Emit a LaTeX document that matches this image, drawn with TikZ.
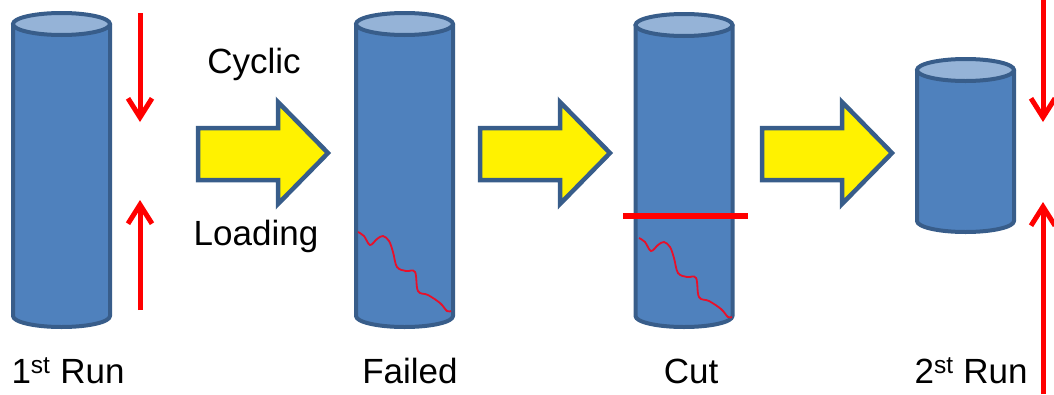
\documentclass[tikz,border=0pt]{standalone}
\usepackage{fontspec}
\setmainfont{Liberation Sans}
\usetikzlibrary{arrows.meta}
\definecolor{cylfill}{HTML}{4F81BD}
\definecolor{cyltopfill}{HTML}{95B3D7}
\definecolor{cylline}{HTML}{385D8A}
\definecolor{crackred}{HTML}{E8102A}
\tikzset{
  cylside/.style={fill=cylfill, draw=cylline, line width=4pt, line join=round},
  cyltop/.style={fill=cyltopfill, draw=cylline, line width=4pt},
  flowarrow/.style={fill=yellow, draw=cylline, line width=4.5pt, line join=miter},
  loadarrow/.style={draw=red, line width=5pt, -{Straight Barb[length=19pt,width=24pt]}},
  crack/.style={draw=crackred, line width=1.8pt},
  cutline/.style={draw=red, line width=6.5pt},
  label/.style={anchor=base, inner sep=0pt, font=\fontsize{35}{42}\selectfont}
}
% a specimen: centre x, top ellipse y, bottom ellipse y, name
\newcommand\specimen[4]{%
  \filldraw[cylside] (#1-48.5,#2) -- (#1-48.5,#3)
    arc[start angle=180,end angle=360,x radius=48.5pt,y radius=11pt]
    -- (#1+48.5,#2) -- cycle;
  \filldraw[cyltop] (#1,#2) ellipse[x radius=48.5pt, y radius=11pt];
  \coordinate (#4) at (#1,#3);
}
% a block arrow starting at the given x
\newcommand\flowarrow[2]{%
  \draw[flowarrow] (#1,128) -- (#1+80,128) -- (#1+80,102) -- (#1+130,153)
    -- (#1+80,204) -- (#1+80,180) -- (#1,180) -- cycle;
  \coordinate (#2) at (#1+130,153);
}
\begin{document}
\begin{tikzpicture}[x=1pt,y=-1pt]
\useasboundingbox (0,0) rectangle (1054,394);

% specimens
\specimen{61.5}{24}{316}{s1}
\specimen{404.5}{24}{316}{s2}
\specimen{684}{25}{316}{s3}
\specimen{965.5}{70}{221}{s4}

% fatigue cracks
\draw[crack] plot[smooth, tension=0.6] coordinates {(358,232) (364,236) (370,245) (377,239) (383,236) (389,241) (393,252) (397,267) (406,271) (415,272) (418,291) (428,295) (440,303) (447,311) (451,311)};
\begin{scope}[shift={(281,6)}]
\draw[crack] plot[smooth, tension=0.6] coordinates {(358,232) (364,236) (370,245) (377,239) (383,236) (389,241) (393,252) (397,267) (406,271) (415,272) (418,291) (428,295) (440,303) (447,311) (451,311)};
\end{scope}

% cut position
\coordinate (cutA) at (623,216);
\coordinate (cutB) at (748,216);
\draw[cutline] (cutA) -- (cutB);

% process arrows
\flowarrow{198}{f1}
\flowarrow{480}{f2}
\flowarrow{762}{f3}

% loading arrows
\coordinate (l1a) at (140,13);  \coordinate (l1b) at (140,122);
\coordinate (l2a) at (140,310); \coordinate (l2b) at (140,200);
\coordinate (r1a) at (1043,0);  \coordinate (r1b) at (1043,122);
\coordinate (r2a) at (1043,394);\coordinate (r2b) at (1043,202);
\draw[loadarrow] (l1a) -- (l1b);
\draw[loadarrow] (l2a) -- (l2b);
\draw[loadarrow] (r1a) -- (r1b);
\draw[loadarrow] (r2a) -- (r2b);

% labels
\node[label] (cyc) at (254,73) {Cyclic};
\node[label] (ld) at (256,245) {Loading};
\node[label] (t1) at (68,383) {1\textsuperscript{st} Run};
\node[label] (t2) at (410,383) {Failed};
\node[label] (t3) at (691,383) {Cut};
\node[label] (t4) at (971,383) {2\textsuperscript{st} Run};
\end{tikzpicture}
\end{document}
